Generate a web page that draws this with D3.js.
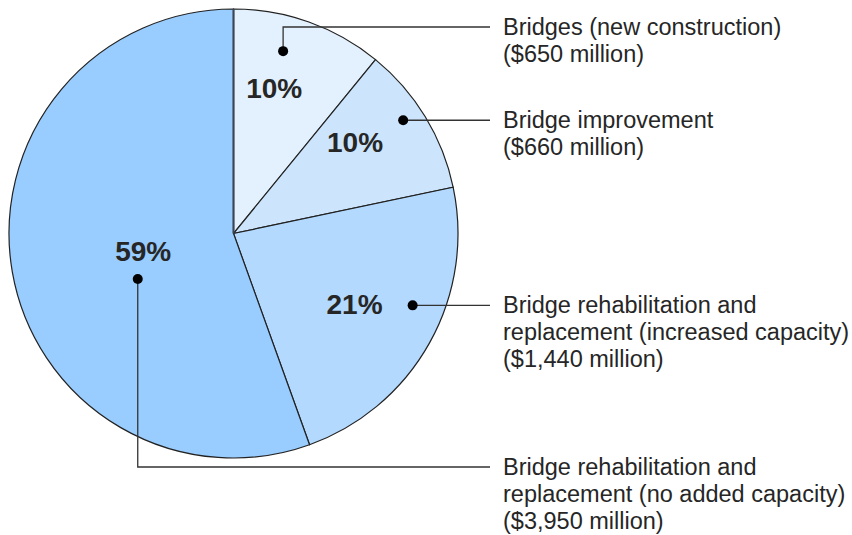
<!DOCTYPE html>
<html>
<head>
	<meta charset="utf-8">
	<title>bridge spending pie</title>
	<style>
		body{ margin:0; background:white; }
		svg{ display:block; }
		.slice{ stroke:#222; stroke-width:1.2; }
		.pct{ font-family:"Liberation Sans", Arial, sans-serif; font-weight:bold; font-size:28px; fill:#262626; }
		.lab{ font-family:"Liberation Sans", Arial, sans-serif; font-size:23.5px; fill:#262626; }
		.leader{ fill:none; stroke:#333; stroke-width:1.3; }
	</style>
	<script src="https://cdn.jsdelivr.net/npm/d3@7"></script>
</head>
<body>
  <svg width="852" height="535"></svg>
  <script>
    // data
    var categories = [
      ["Bridges (new construction)"],
      ["Bridge improvement"],
      ["Bridge rehabilitation and", "replacement (increased capacity)"],
      ["Bridge rehabilitation and", "replacement (no added capacity)"]
    ];
    var amounts = ["$650 million", "$660 million", "$1,440 million", "$3,950 million"];
    var pctLabels = ["10%", "10%", "21%", "59%"];
    // share of the circle each slice takes in the drawing (percent)
    var sliceShares = [10.9, 10.8, 22.8, 55.5];
    var colors = ["#e3f1fe", "#cce5fd", "#b3d9fe", "#99ccff"];

    var w = 852, h = 535;
    var cx = 233.5, cy = 233.5, r = 224.5;
    var svg = d3.select("svg");
    var g = svg.append("g").attr("transform", "translate(" + cx + "," + cy + ")");

    var pie = d3.pie().sort(null).value(function(d){ return d; });
    var arcs = pie(sliceShares);
    var arc = d3.arc().innerRadius(0).outerRadius(r);

    g.selectAll("path.slice")
      .data(arcs)
      .enter().append("path")
      .attr("class", "slice")
      .attr("d", arc)
      .attr("fill", function(d, i){ return colors[i]; });

    // the first edge (12 o'clock) is drawn a bit heavier
    g.append("line").attr("x1", 0).attr("y1", 0).attr("x2", 0).attr("y2", -r)
      .attr("stroke", "#3a4656").attr("stroke-width", 2);

    // annotation layout: [angle nudge from mid angle (deg), radius]
    var pctPos = [[-4, 151], [-5.6, 152], [1, 140], [-1, 92]];
    var dotPos = [[-4.4, 189], [-2.4, 204], [-7.3, 193], [-15.5, 106]];
    var lineEndX = 490, textX = 503, lineH = 27;

    function polar(d, p) {
      var a = (d.startAngle + d.endAngle) / 2 + p[0] * Math.PI / 180;
      return [cx + p[1] * Math.sin(a), cy - p[1] * Math.cos(a)];
    }

    arcs.forEach(function(d, i){
      var pp = polar(d, pctPos[i]);
      svg.append("text").attr("class", "pct")
        .attr("x", pp[0]).attr("y", pp[1])
        .attr("text-anchor", "middle").attr("dy", "0.36em")
        .text(pctLabels[i]);

      var dp = polar(d, dotPos[i]);
      var pts, ly;
      if (i === 0) { ly = 27; pts = [dp, [dp[0], ly], [lineEndX, ly]]; }
      else if (i === 3) { ly = 467; pts = [dp, [dp[0], ly], [lineEndX, ly]]; }
      else { ly = dp[1]; pts = [dp, [lineEndX, ly]]; }

      svg.append("path").attr("class", "leader").attr("d", d3.line()(pts));
      svg.append("circle").attr("cx", dp[0]).attr("cy", dp[1]).attr("r", 5).attr("fill", "#000");

      var t = svg.append("text").attr("class", "lab").attr("x", textX).attr("y", ly + 7.5);
      categories[i].concat(["(" + amounts[i] + ")"]).forEach(function(s, k){
        t.append("tspan").attr("x", textX).attr("dy", k === 0 ? 0 : lineH).text(s);
      });
    });
  </script>
</body>
</html>
